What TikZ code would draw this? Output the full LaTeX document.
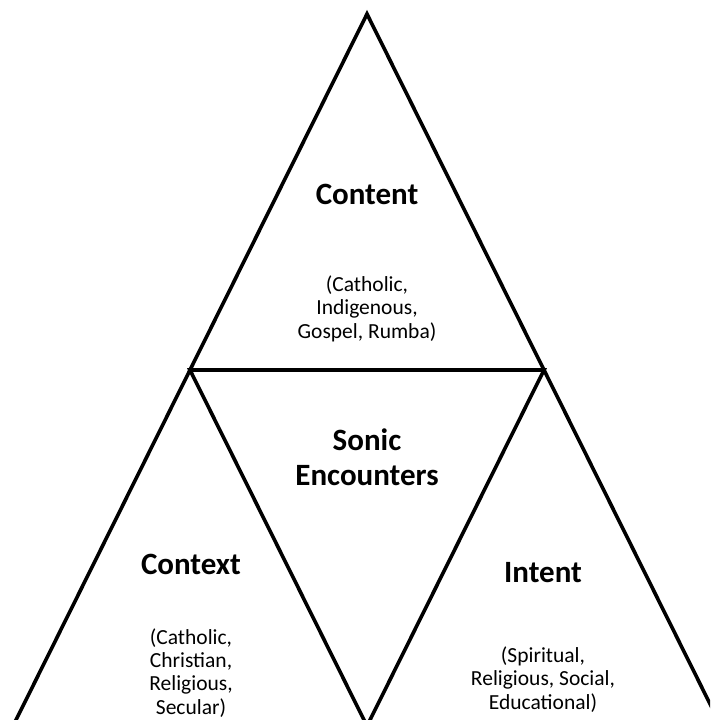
\documentclass[tikz,border=0pt]{standalone}
\usepackage{fontspec}
\setmainfont{Carlito}
\usepackage{tikz}

\tikzset{
    edge/.style={line width=3.6pt, line join=miter},
    title/.style={font=\fontsize{31}{35}\selectfont\bfseries, align=center, anchor=base},
    items/.style={font=\fontsize{21.5}{23.2}\selectfont, align=center, anchor=base}
}

\begin{document}
\begin{tikzpicture}[x=1pt, y=-1pt]
    \useasboundingbox (0,0) rectangle (710,720);
    \clip (0,0) rectangle (710,720);
    \coordinate (top) at (367,14);
    \coordinate (cl) at (190,370);
    \coordinate (cr) at (544,370);
    \coordinate (bl) at (13,726);
    \coordinate (bm) at (367,726);
    \coordinate (br) at (721,726);

    \draw[edge] (bl) -- (top) -- (br);
    \draw[edge] (cl) -- (cr) -- (bm) -- cycle;

    \node[title] (content) at (367,204) {Content};
    \node[items] (contentlist) at (367,338) {(Catholic,\\Indigenous,\\Gospel, Rumba)};
    \node[title] (sonic) at (367,485) {Sonic\\Encounters};
    \node[title] (context) at (191,574) {Context};
    \node[items] (contextlist) at (191,714) {(Catholic,\\Christian,\\Religious,\\Secular)};
    \node[title] (intent) at (543,582) {Intent};
    \node[items] (intentlist) at (543,709) {(Spiritual,\\Religious, Social,\\Educational)};
\end{tikzpicture}
\end{document}
